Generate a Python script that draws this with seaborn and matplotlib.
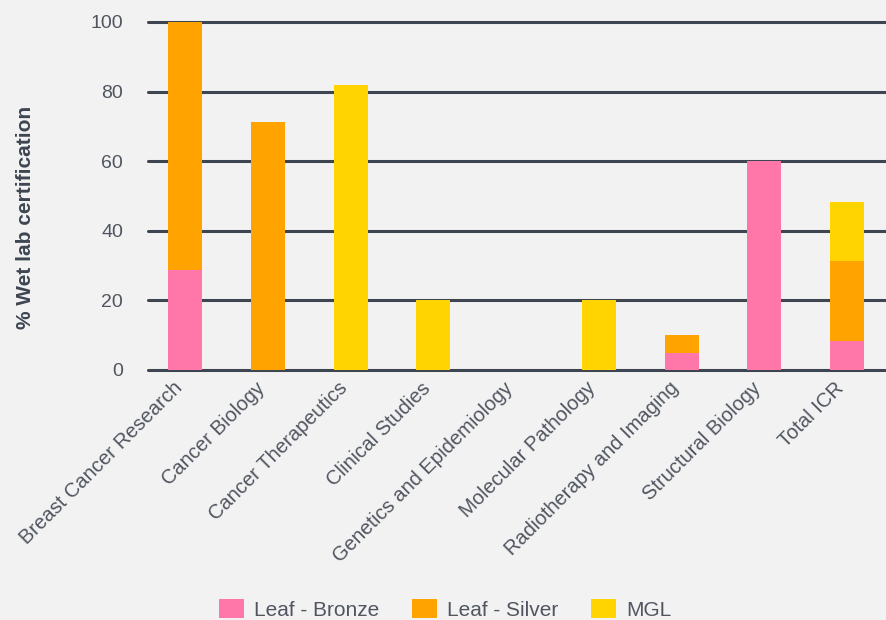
import matplotlib
matplotlib.use("Agg")
import matplotlib.pyplot as plt
import matplotlib.transforms as mtrans
import seaborn as sns
import pandas as pd
import numpy as np
from matplotlib.patches import Patch

categories = ["Breast Cancer Research", "Cancer Biology", "Cancer Therapeutics",
              "Clinical Studies", "Genetics and Epidemiology", "Molecular Pathology",
              "Radiotherapy and Imaging", "Structural Biology", "Total ICR"]
bronze = [28.6, 0, 0, 0, 0, 0, 5, 60, 8.3]
silver = [71.4, 71.4, 0, 0, 0, 0, 5, 0, 23.0]
mgl = [0, 0, 81.8, 20, 0, 20, 0, 0, 17.0]
series_names = ["Leaf - Bronze", "Leaf - Silver", "MGL"]
colors = ["#FF77A9", "#FFA300", "#FFD400"]
yticks = [0, 20, 40, 60, 80, 100]

sns.set_theme(style="white")
plt.rcParams["font.family"] = ["Liberation Sans", "DejaVu Sans"]

bg = "#F2F2F2"
fig = plt.figure(figsize=(8.86, 6.2), dpi=100, facecolor=bg)
ax = fig.add_axes([148/886, 1-370/620, 1-148/886, (370-22)/620])
ax.set_facecolor(bg)

df = pd.DataFrame({"cat": categories, "bronze": bronze, "silver": silver, "mgl": mgl})
b = np.array(bronze)
s = np.array(silver)
common = dict(width=0.41, ax=ax, saturation=1, zorder=3, linewidth=0, edgecolor="none")
sns.barplot(data=df, x="cat", y="bronze", color=colors[0], **common)
sns.barplot(data=df, x="cat", y="silver", color=colors[1], bottom=b, **common)
sns.barplot(data=df, x="cat", y="mgl", color=colors[2], bottom=b + s, **common)

ax.set_ylim(0, 100)
ax.set_xlim(-0.45, 8.47)
for t in yticks:
    ax.axhline(t, color="#3D4551", lw=2.2, zorder=1, clip_on=False)
ax.set_yticks(yticks)
ax.set_yticklabels([str(t) for t in yticks], fontsize=14, color="#50555F")
ax.tick_params(axis="y", length=0, pad=18)
ax.tick_params(axis="x", length=0, pad=4)
ax.set_xticks(range(len(categories)))
ax.set_xticklabels(categories, rotation=45, ha="right", rotation_mode="anchor",
                   fontsize=14.5, color="#50555F")
offset = mtrans.ScaledTranslation(-13/100, -3/100, fig.dpi_scale_trans)
for lbl in ax.get_xticklabels():
    lbl.set_transform(lbl.get_transform() + offset)

ax.set_xlabel("")
ax.set_ylabel("% Wet lab certification", fontsize=15, fontweight="bold",
              color="#3D4551")
ax.yaxis.set_label_coords((35-148)/738, (370-217)/348)
for sp in ax.spines.values():
    sp.set_visible(False)

handles = [Patch(facecolor=c, edgecolor="none") for c in colors]
fig.legend(handles, series_names, loc="lower left", bbox_to_anchor=(200/886, -0.03),
           ncol=3, frameon=False, fontsize=15, handlelength=1.2, handleheight=1.0,
           columnspacing=1.55, handletextpad=0.5, labelcolor="#50555F")

fig.savefig("out.png", dpi=100, facecolor=bg)
